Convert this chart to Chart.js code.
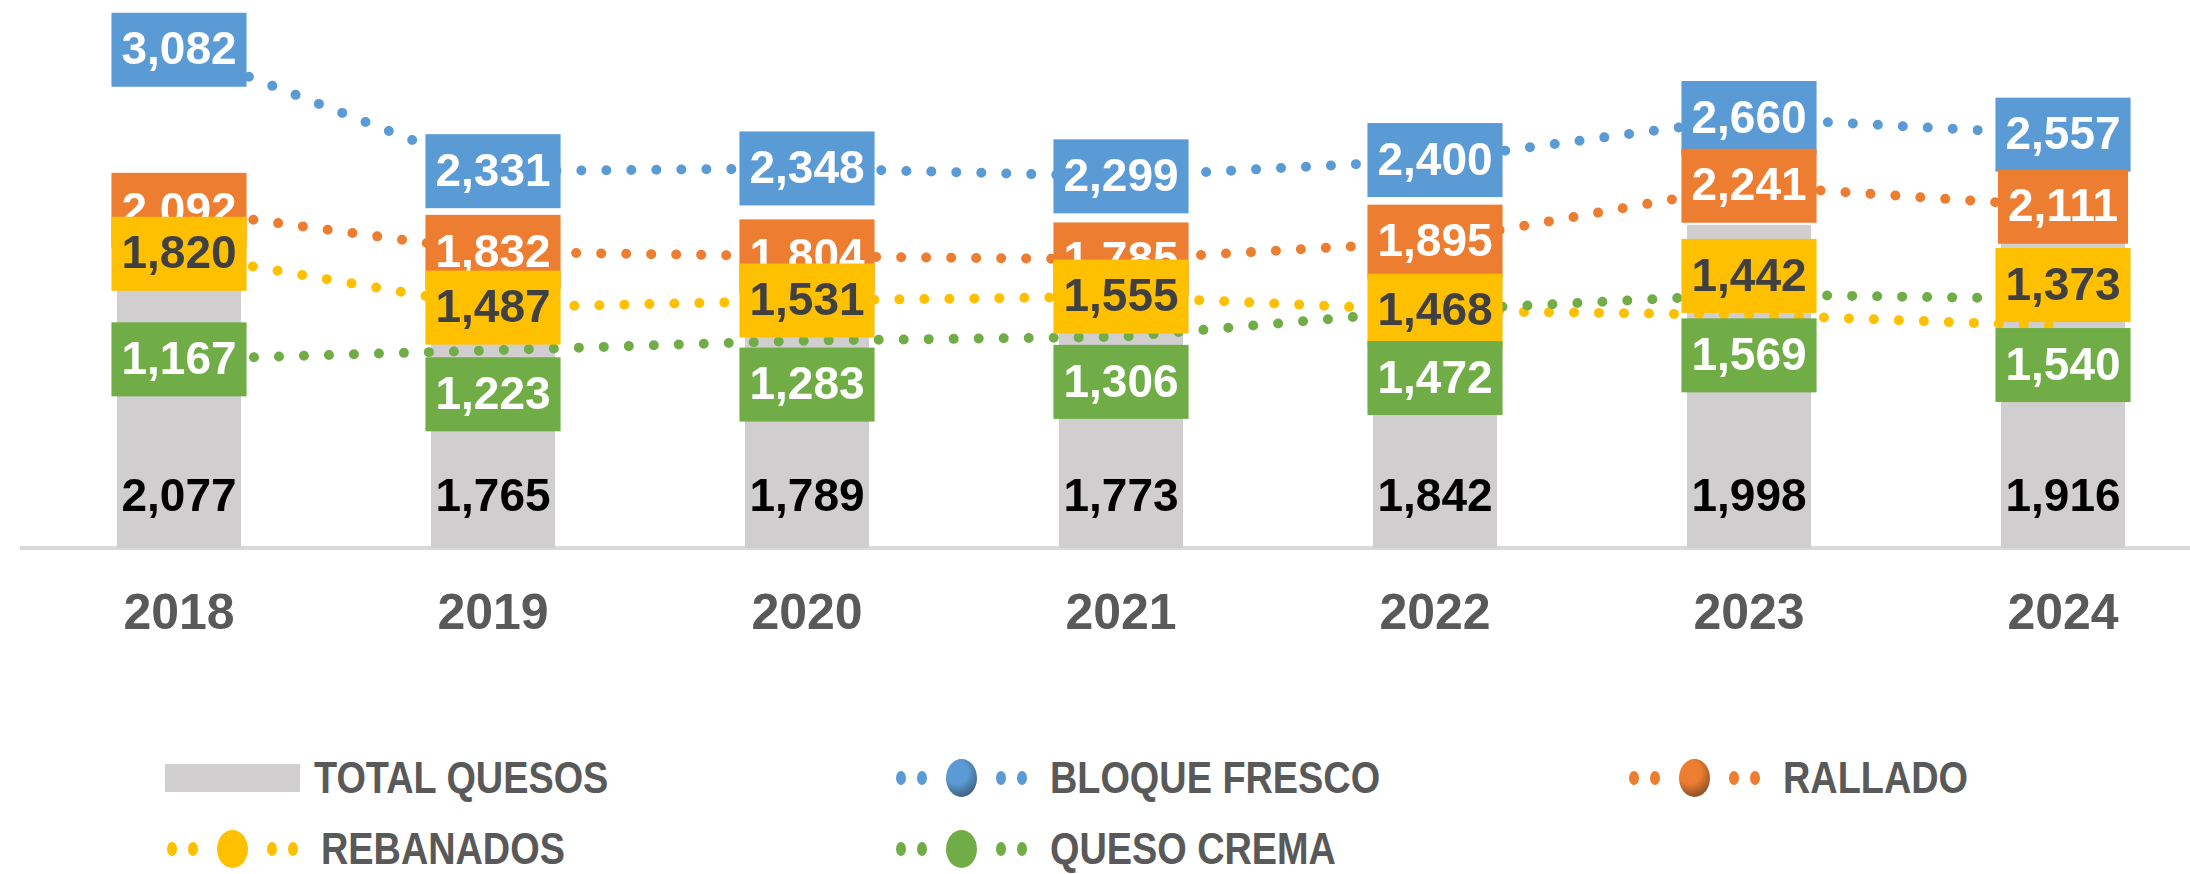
<!DOCTYPE html>
<html>
<head>
<meta charset="utf-8">
<script src="https://cdn.jsdelivr.net/npm/chart.js@4.4.1/dist/chart.umd.min.js"></script>
<style>
  body {
    margin: 0;
    width: 2190px;
    height: 874px;
    overflow: hidden;
    background: #fff;
    position: relative;
  }
  .chart-wrap {
    position: absolute;
    left: 0;
    top: 0;
    width: 2220px;
    height: 683px;
  }
  .legend-item {
    position: absolute;
    display: flex;
    align-items: center;
    height: 60px;
    font-family: "Liberation Sans", Arial, sans-serif;
    font-weight: bold;
    font-size: 44px;
    color: #595959;
    white-space: nowrap;
  }
  .legend-item .txt {
    display: inline-block;
    transform: scaleX(0.86);
    transform-origin: left center;
  }
  .legend-swatch {
    width: 135px;
    height: 28px;
    background: #d0cece;
  }
  .legend-line {
    position: relative;
    width: 135px;
    height: 60px;
  }
  .legend-line span {
    position: absolute;
    border-radius: 50%;
  }
</style>
</head>
<body>
<div class="chart-wrap"><canvas id="chart"></canvas></div>

<script>
// data
const years = ["2018", "2019", "2020", "2021", "2022", "2023", "2024"];
const totalQuesos = [2077, 1765, 1789, 1773, 1842, 1998, 1916];
const bloqueFresco = [3082, 2331, 2348, 2299, 2400, 2660, 2557];
const rallado = [2092, 1832, 1804, 1785, 1895, 2241, 2111];
const rebanados = [1820, 1487, 1531, 1555, 1468, 1442, 1373];
const quesoCrema = [1167, 1223, 1283, 1306, 1472, 1569, 1540];

const seriesNames = ["TOTAL QUESOS", "BLOQUE FRESCO", "RALLADO", "REBANADOS", "QUESO CREMA"];
const colors = ["#d0cece", "#5b9bd5", "#ed7d31", "#ffc000", "#70ad47"];
const labelTextColors = ["#000000", "#ffffff", "#ffffff", "#404040", "#ffffff"];

// labels were nudged up/down in the original so they don't overlap (px)
const labelShift = [
  null,
  [0, 0, 0, 0, 0, 0, 0],
  [0, 0, 0, 0, 0, 0, 0],
  [0, 0, 0, 0, 0, -39, -41],
  [0, 44, 44, 45, 68, 61, 66],
];

const labelFont = "bold 46px 'Liberation Sans', Arial, sans-serif";
const fmt = (v) => v.toLocaleString("en-US");

const boxLabels = {
  id: "boxLabels",
  afterDatasetsDraw(chart) {
    const ctx = chart.ctx;
    ctx.save();
    ctx.font = labelFont;
    ctx.textAlign = "center";
    ctx.textBaseline = "middle";

    // bar labels sit near the base
    const barMeta = chart.getDatasetMeta(0);
    barMeta.data.forEach((bar, i) => {
      ctx.fillStyle = labelTextColors[0];
      ctx.fillText(fmt(totalQuesos[i]), bar.x, bar.base - 50);
    });

    // line labels in boxes, drawn in series order
    for (let d = 1; d < chart.data.datasets.length; d++) {
      const meta = chart.getDatasetMeta(d);
      const values = chart.data.datasets[d].data;
      meta.data.forEach((pt, i) => {
        const text = fmt(values[i]);
        const w = ctx.measureText(text).width + 20;
        const h = 74;
        const cy = pt.y + labelShift[d][i];
        ctx.fillStyle = colors[d];
        ctx.fillRect(pt.x - w / 2, cy - h / 2, w, h);
        ctx.fillStyle = labelTextColors[d];
        ctx.fillText(text, pt.x, cy + 2);
      });
    }
    ctx.restore();
  },
};

function lineDataset(label, data, color, order) {
  return {
    type: "line",
    label: label,
    data: data,
    borderColor: color,
    backgroundColor: color,
    borderWidth: 10,
    borderDash: [0, 25],
    borderCapStyle: "round",
    pointRadius: 0,
    tension: 0,
    order: order,
  };
}

const chartConfig = {
  type: "bar",
  data: {
    labels: years,
    datasets: [
      {
        label: seriesNames[0],
        data: totalQuesos,
        backgroundColor: colors[0],
        barPercentage: 0.395,
        categoryPercentage: 1,
        order: 5,
      },
      lineDataset(seriesNames[1], bloqueFresco, colors[1], 4),
      lineDataset(seriesNames[2], rallado, colors[2], 3),
      lineDataset(seriesNames[3], rebanados, colors[3], 2),
      lineDataset(seriesNames[4], quesoCrema, colors[4], 1),
    ],
  },
  options: {
    responsive: true,
    maintainAspectRatio: false,
    animation: false,
    layout: { padding: { left: 22, right: 0, top: 0, bottom: 1 } },
    plugins: {
      legend: { display: false },
      tooltip: { enabled: false },
    },
    scales: {
      x: {
        grid: { display: false, drawTicks: false },
        border: { display: true, color: "#d9d9d9", width: 4 },
        ticks: {
          color: "#595959",
          padding: 37,
          font: {
            family: "'Liberation Sans', Arial, sans-serif",
            weight: "bold",
            size: 50,
          },
        },
      },
      y: {
        display: false,
        min: 0,
        max: 3390,
      },
    },
  },
  plugins: [boxLabels],
};

new Chart(document.getElementById("chart"), chartConfig);

// legend (excel style grid)
const legendSlots = [
  { left: 165, top: 748, gap: 14 },
  { left: 894, top: 748, gap: 21 },
  { left: 1627, top: 748, gap: 21 },
  { left: 165, top: 819, gap: 21 },
  { left: 894, top: 819, gap: 21 },
];
const shaded = [false, true, true, false, false];

function makeMarker(i) {
  if (i === 0) {
    const sw = document.createElement("div");
    sw.className = "legend-swatch";
    return sw;
  }
  const box = document.createElement("div");
  box.className = "legend-line";
  [7, 28, 107, 128].forEach((x) => {
    const dot = document.createElement("span");
    dot.style.left = x - 5 + "px";
    dot.style.top = "23px";
    dot.style.width = "10px";
    dot.style.height = "14px";
    dot.style.background = colors[i];
    box.append(dot);
  });
  const big = document.createElement("span");
  big.style.left = "52px";
  big.style.top = "11px";
  big.style.width = "31px";
  big.style.height = "38px";
  big.style.background = shaded[i]
    ? `radial-gradient(circle at 35% 35%, ${colors[i]} 0%, ${colors[i]} 35%, #1d1d1d 130%)`
    : colors[i];
  box.append(big);
  return box;
}

seriesNames.forEach((name, i) => {
  const item = document.createElement("div");
  item.className = "legend-item";
  item.style.left = legendSlots[i].left + "px";
  item.style.top = legendSlots[i].top + "px";
  const txt = document.createElement("span");
  txt.className = "txt";
  txt.style.marginLeft = legendSlots[i].gap + "px";
  txt.textContent = name;
  item.append(makeMarker(i), txt);
  document.body.append(item);
});
</script>
</body>
</html>
